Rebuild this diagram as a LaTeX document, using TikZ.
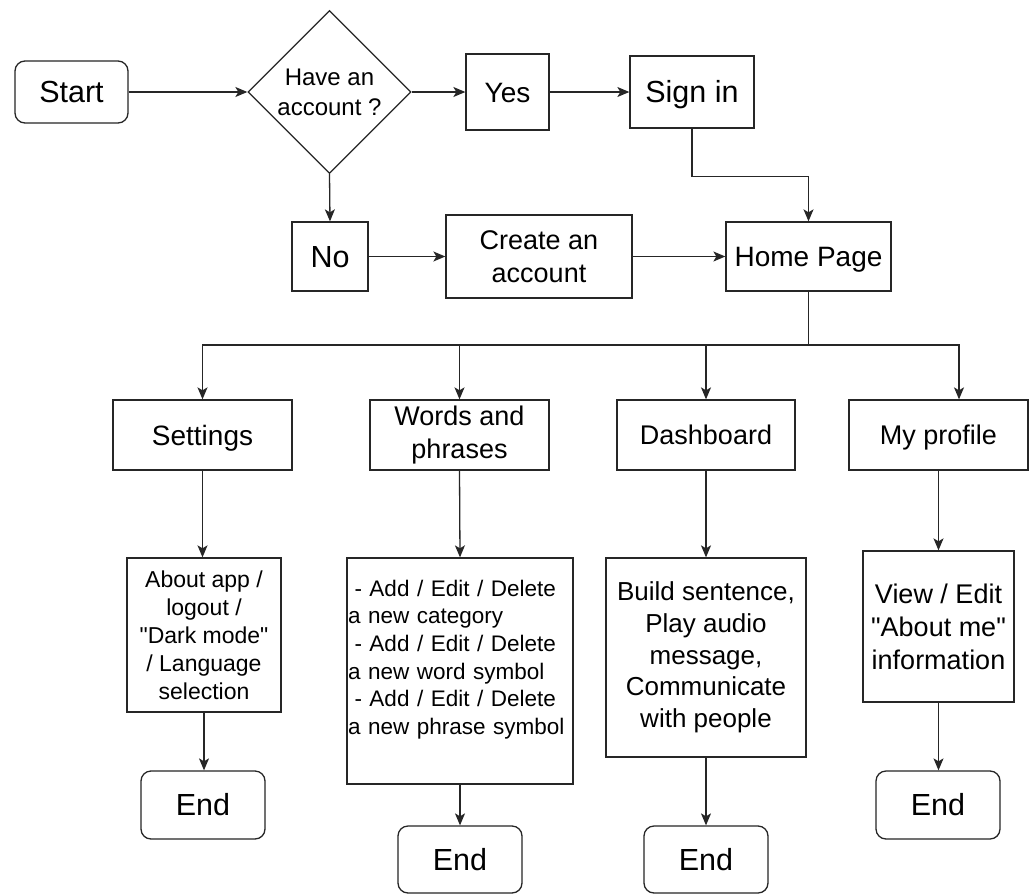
\documentclass[tikz,border=0pt]{standalone}
\usepackage{fontspec}
\setmainfont{Liberation Sans}[Ligatures=TeXOff]
\usetikzlibrary{shapes.geometric, arrows.meta}
\tikzset{
  base/.style={draw=black!85, line width=1.3pt, inner sep=0pt, align=center, text=black},
  proc/.style={base, rectangle},
  term/.style={base, rectangle, rounded corners=10pt},
  decide/.style={base, diamond, shape aspect=1},
  conn/.style={draw=black!85, line width=1.3pt, -{Stealth[length=12pt,width=10pt,inset=3pt]}},
  plain/.style={draw=black!85, line width=1.3pt},
  f22/.style={font=\fontsize{22.5}{27.7}\selectfont},
  f23/.style={font=\fontsize{23}{28}\selectfont},
  f24/.style={font=\fontsize{24}{30}\selectfont},
  f26/.style={font=\fontsize{26}{31.7}\selectfont},
  f27/.style={font=\fontsize{27}{33}\selectfont},
  f27one/.style={f27, text height=19.3pt, text depth=0pt},
  f28one/.style={font=\fontsize{28}{34}\selectfont, text height=20pt, text depth=0pt},
  f30one/.style={font=\fontsize{30.5}{36}\selectfont, text height=21.8pt, text depth=0pt},
}
\begin{document}
\begin{tikzpicture}[x=1pt, y=-1pt]
\fill[white] (0,0) rectangle (1033,894);
\useasboundingbox (0,0) rectangle (1033,894);

% top row
\node[term, f30one, minimum width=113, minimum height=62] (start) at (71.5,92) {Start};
\node[decide, f24, minimum width=163, minimum height=163] (have) at (329.5,92) {Have an\\account ?};
\node[proc, f28one, minimum width=83, minimum height=76] (yes) at (507.5,92) {Yes};
\node[proc, f30one, minimum width=124, minimum height=72] (signin) at (692,92) {Sign in};

% second row
\node[proc, f30one, minimum width=76, minimum height=69] (no) at (330,256.5) {No};
\node[proc, f27, minimum width=186, minimum height=83] (create) at (539,256.5) {Create an\\account};
\node[proc, f28one, minimum width=165, minimum height=69] (home) at (808.5,256.5) {Home Page};

% third row
\node[proc, f28one, minimum width=179, minimum height=70] (settings) at (202.5,435) {Settings};
\node[proc, f27, minimum width=179, minimum height=70] (words) at (459.5,435) {Words and\\phrases};
\node[proc, f27one, minimum width=178, minimum height=70] (dash) at (706,435) {Dashboard};
\node[proc, f27one, minimum width=179, minimum height=70] (prof) at (938.5,435) {My profile};

% detail row
\node[proc, f23, minimum width=154, minimum height=154] (about) at (204,635)
  {About app /\\logout /\\"Dark mode"\\/ Language\\selection};
\node[proc, f22, minimum width=226, minimum height=226, text width=224, inner xsep=1pt, align=left] (wdet) at (460,671)
  {\hspace*{6.5pt}- Add / Edit / Delete\\a new category\\\hspace*{6.5pt}- Add / Edit / Delete\\a new word symbol\\\hspace*{6.5pt}- Add / Edit / Delete\\a new phrase symbol\\\mbox{}};
\node[proc, f26, minimum width=200, minimum height=199] (build) at (706,657.5)
  {Build sentence,\\Play audio\\message,\\Communicate\\with people};
\node[proc, f27, minimum width=151, minimum height=151] (view) at (938.5,626.5)
  {View / Edit\\"About me"\\information};

% end row
\node[term, f30one, minimum width=124, minimum height=68] (end1) at (203,805) {End};
\node[term, f30one, minimum width=124, minimum height=67] (end2) at (460,859.5) {End};
\node[term, f30one, minimum width=124, minimum height=67] (end3) at (706,859.5) {End};
\node[term, f30one, minimum width=124, minimum height=68] (end4) at (938,805) {End};

% connectors
\draw[conn] (start.east) -- (have.west);
\draw[conn] (have.east) -- (yes.west);
\draw[conn] (yes.east) -- (signin.west);
\draw[conn] (have.south) -- (no.north);
\draw[conn] (no.east) -- (create.west);
\draw[conn] (create.east) -- (home.west);
\draw[conn] (signin.south) -- ++(0,47.5) -| (home.north);

\coordinate (br) at (808.5,345);
\draw[plain] (home.south) -- (br);
\draw[conn] (br) -| (settings.north);
\draw[conn] (br) -| (words.north);
\draw[conn] (br) -| (dash.north);
\draw[conn] (br) -| ([xshift=20.5pt]prof.north);

\draw[conn] (settings.south) -- (settings.south |- about.north);
\draw[conn] (words.south) -- (wdet.north);
\draw[conn] (dash.south) -- (build.north);
\draw[conn] (prof.south) -- (view.north);

\draw[conn] (about.south) -- (about.south |- end1.north);
\draw[conn] (wdet.south) -- (end2.north);
\draw[conn] (build.south) -- (end3.north);
\draw[conn] (view.south) -- (view.south |- end4.north);
\end{tikzpicture}
\end{document}
